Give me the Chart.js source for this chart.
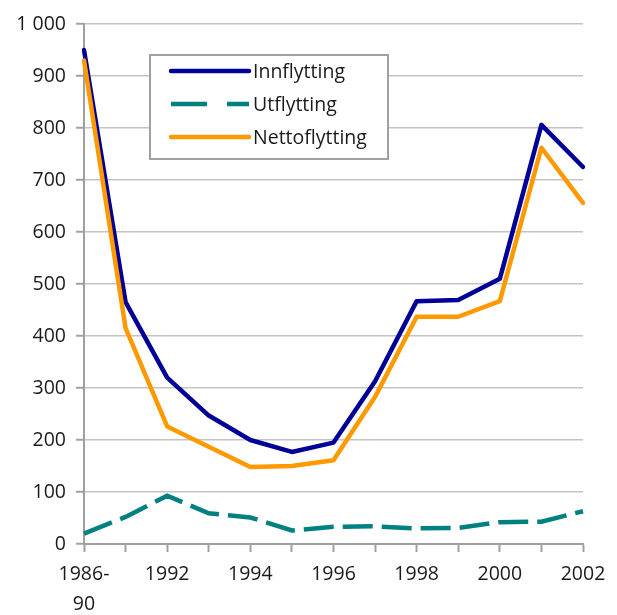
<!DOCTYPE html>
<html>
<head>
<meta charset="utf-8">
<script src="https://cdn.jsdelivr.net/npm/chart.js@4.4.1/dist/chart.umd.min.js"></script>
<style>
html,body{margin:0;padding:0;background:#fff;}
#wrap{position:relative;width:617px;height:615px;}
</style>
</head>
<body>
<div id="wrap"><canvas id="c"></canvas></div>
<script>
const categories = ["1986-90","1991","1992","1993","1994","1995","1996","1997","1998","1999","2000","2001","2002"];
const innflytting = [950, 465, 320, 247, 200, 177, 195, 313, 467, 469, 510, 806, 725];
const utflytting = [20, 52, 93, 59, 51, 26, 33, 34, 30, 31, 42, 43, 63];
const nettoflytting = [930, 415, 226, 187, 148, 150, 161, 283, 437, 437, 467, 762, 656];
const seriesNames = ["Innflytting", "Utflytting", "Nettoflytting"];
const yTicks = [0,100,200,300,400,500,600,700,800,900,1000];

const FONT = "'Open Sans', 'Noto Sans', sans-serif";
const TXT = '#1a1a1a';
const AXIS = '#a0a0a0';
const GRID = '#c4c4c4';

function fmt(v){ return String(v).replace(/\B(?=(\d{3})+(?!\d))/g, ' '); }

const legendBox = {
  id: 'legendBox',
  afterDraw(chart){
    const ctx = chart.ctx;
    ctx.save();
    const x0 = 150, y0 = 55, w = 238, h = 104;
    ctx.fillStyle = '#fff';
    ctx.fillRect(x0, y0, w, h);
    ctx.lineWidth = 2;
    ctx.strokeStyle = AXIS;
    ctx.strokeRect(x0, y0, w, h);
    const rows = [71, 104, 137];
    chart.data.datasets.forEach((ds, i) => {
      const y = rows[i];
      ctx.beginPath();
      ctx.lineWidth = 4.5;
      ctx.strokeStyle = ds.borderColor;
      if (ds.borderDash && ds.borderDash.length) {
        ctx.setLineDash([36, 20]);
        ctx.lineCap = 'butt';
      } else {
        ctx.setLineDash([]);
        ctx.lineCap = 'round';
      }
      ctx.moveTo(171, y);
      ctx.lineTo(249, y);
      ctx.stroke();
      ctx.setLineDash([]);
      ctx.fillStyle = TXT;
      ctx.font = "19.5px " + FONT;
      ctx.textBaseline = 'middle';
      ctx.textAlign = 'left';
      ctx.fillText(ds.label, 253, y + 1);
    });
    ctx.restore();
  }
};

new Chart(document.getElementById('c'), {
  type: 'line',
  data: {
    labels: categories,
    datasets: [
      { label: seriesNames[0], data: innflytting, borderColor: '#000099', backgroundColor: '#000099', borderWidth: 4.5, pointRadius: 0, tension: 0, order: 2, borderJoinStyle: 'round', borderCapStyle: 'round' },
      { label: seriesNames[1], data: utflytting, borderColor: '#008080', backgroundColor: '#008080', borderWidth: 4.5, pointRadius: 0, tension: 0, order: 1, borderDash: [30, 9], borderCapStyle: 'butt' },
      { label: seriesNames[2], data: nettoflytting, borderColor: '#FF9900', backgroundColor: '#FF9900', borderWidth: 4.5, pointRadius: 0, tension: 0, order: 0, borderJoinStyle: 'round', borderCapStyle: 'round' }
    ]
  },
  options: {
    responsive: true,
    maintainAspectRatio: false,
    animation: false,
    layout: { padding: { top: 24, right: 34, left: 0, bottom: 0 } },
    plugins: { legend: { display: false }, tooltip: { enabled: false } },
    scales: {
      x: {
        type: 'category',
        offset: false,
        afterFit(s){ s.height = 71; },
        grid: { drawOnChartArea: false, drawTicks: true, tickLength: 8, tickColor: AXIS, tickWidth: 2 },
        border: { color: AXIS, width: 2 },
        ticks: {
          autoSkip: false, maxRotation: 0, minRotation: 0, padding: 8,
          color: TXT, font: { family: FONT, size: 19.5, lineHeight: 1.52 },
          callback(v, i){ if (i % 2 !== 0) return ''; const l = categories[i]; return l.indexOf('-') >= 0 ? [l.split('-')[0] + '-', l.split('-')[1]] : l; }
        }
      },
      y: {
        min: 0, max: 1000,
        afterFit(s){ s.width = 84; },
        afterBuildTicks(s){ s.ticks = yTicks.map(v => ({ value: v })); },
        grid: { color: GRID, lineWidth: 1.5, tickLength: 8, tickColor: AXIS, tickWidth: 2 },
        border: { color: AXIS, width: 2 },
        ticks: { padding: 10, color: TXT, font: { family: FONT, size: 19.5 }, callback(v){ return fmt(v); } }
      }
    }
  },
  plugins: [legendBox]
});
</script>
</body>
</html>
